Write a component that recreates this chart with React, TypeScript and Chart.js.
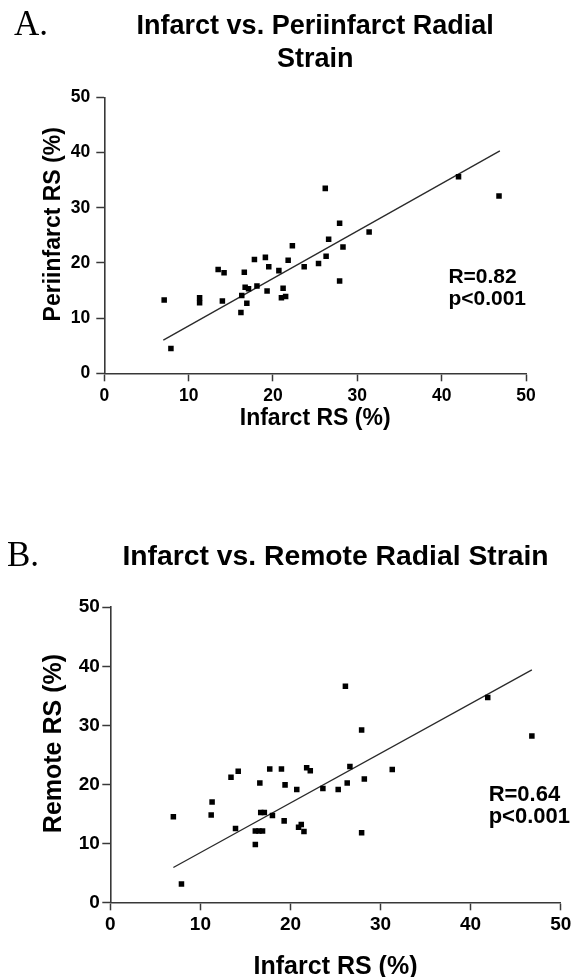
import React, { useEffect, useRef } from 'react';
import { Chart, registerables } from 'chart.js';

Chart.register(...registerables);

const SANS = 'Arial, "Liberation Sans", Helvetica, sans-serif';
const SERIF = '"Liberation Serif", "Times New Roman", Times, serif';

// Shared tick values
const axisTicks = [0, 10, 20, 30, 40, 50];

// Panel A: Infarct vs. Periinfarct radial strain
const infarctA = [7.1, 7.9, 11.3, 11.3, 13.5, 14.2, 14.0, 16.6, 16.2, 16.3, 16.7, 17.1, 16.9, 18.1, 17.8, 19.1, 19.5, 19.3, 20.7, 21.2, 21.0, 21.5, 21.8, 22.3, 23.7, 25.4, 26.2, 26.3, 26.6, 27.9, 27.9, 28.3, 31.4, 42.0, 46.8];
const periinfarct = [13.3, 4.5, 12.8, 13.7, 18.8, 18.2, 13.1, 18.3, 11.0, 14.1, 15.6, 15.3, 12.7, 15.8, 20.6, 21.0, 19.3, 14.9, 18.6, 15.4, 13.7, 13.9, 20.5, 23.1, 19.3, 19.9, 33.5, 21.2, 24.3, 27.2, 16.7, 22.9, 25.6, 35.6, 32.1];
const fitAx = [7.0, 46.9];
const fitAy = [6.0, 40.3];
const statsA = ['R=0.82', 'p<0.001'];

// Panel B: Infarct vs. Remote radial strain
const infarctB = [7.0, 7.9, 11.2, 11.3, 13.4, 14.2, 13.9, 16.1, 16.1, 16.5, 16.9, 16.6, 16.7, 17.1, 18.0, 17.7, 19.0, 19.4, 19.3, 20.7, 20.9, 21.2, 21.5, 21.8, 22.2, 23.6, 25.3, 26.1, 26.3, 26.6, 27.9, 27.9, 28.2, 31.3, 41.9, 46.8];
const remote = [14.5, 3.1, 14.8, 17.0, 21.2, 22.2, 12.5, 9.8, 12.1, 12.1, 12.1, 20.2, 15.2, 15.2, 14.7, 22.6, 22.6, 19.9, 13.8, 19.1, 12.7, 13.2, 12.0, 22.8, 22.3, 19.3, 19.1, 36.6, 20.2, 23.0, 29.2, 11.8, 20.9, 22.5, 34.7, 28.2];
const fitBx = [7.0, 46.8];
const fitBy = [5.9, 39.4];
const statsB = ['R=0.64', 'p<0.001'];

const panelText = {
  id: 'panelText',
  afterDraw(chart: any, _args: any, opts: any) {
    const { ctx, scales } = chart;
    ctx.save();
    ctx.fillStyle = '#000';
    ctx.textAlign = 'left';
    ctx.textBaseline = 'alphabetic';
    ctx.font = `${opts.letterSize}px ${SERIF}`;
    ctx.fillText(opts.letter, opts.letterX, opts.letterY);
    ctx.font = `bold ${opts.statsSize}px ${SANS}`;
    const x = scales.x.getPixelForValue(opts.statsAt[0]);
    const y = scales.y.getPixelForValue(opts.statsAt[1]);
    opts.stats.forEach((s: string, i: number) => ctx.fillText(s, x, y + i * opts.statsGap));
    // Y-axis title (rotated), centred on a data value of the y scale
    const ty = scales.y.getPixelForValue(opts.yTitleAt);
    ctx.translate(opts.yTitleX, ty);
    ctx.rotate(-Math.PI / 2);
    ctx.textAlign = 'center';
    ctx.textBaseline = 'middle';
    ctx.font = `bold ${opts.yTitleSize}px ${SANS}`;
    ctx.fillText(opts.yTitle, 0, 0);
    ctx.restore();
  },
};

type PanelSpec = {
  width: number;
  height: number;
  xs: number[];
  ys: number[];
  fx: number[];
  fy: number[];
  title: string | string[];
  titleSize: number;
  titleLH: number;
  titlePad: { top: number; bottom: number };
  xTitle: string;
  yTitle: string;
  axisTitleSize: number;
  xTitleLH: number;
  xTitlePadBottom: number;
  yTitleX: number;
  yTitleAt: number;
  tickSize: number;
  xTickPad: number;
  yTickPad: number;
  yAxisWidth: number;
  xAxisHeight: number;
  padRight: number;
  letter: string;
  letterX: number;
  letterY: number;
  letterSize: number;
  stats: string[];
  statsAt: number[];
  statsSize: number;
  statsGap: number;
};

function buildConfig(p: PanelSpec): any {
  const axisColor = '#383838';
  const common = (which: 'x' | 'y') => ({
    type: 'linear',
    min: 0,
    max: 50,
    afterBuildTicks: (scale: any) => {
      scale.ticks = axisTicks.map((v) => ({ value: v }));
    },
    grid: {
      display: true,
      drawOnChartArea: false,
      drawTicks: true,
      tickLength: 8,
      tickWidth: 1.5,
      color: axisColor,
    },
    border: { display: true, color: axisColor, width: 1.6 },
    ticks: {
      color: '#000',
      font: { family: SANS, size: p.tickSize, weight: 'bold' },
      padding: which === 'x' ? p.xTickPad : p.yTickPad,
      maxRotation: 0,
      autoSkip: false,
    },
  });
  return {
    type: 'scatter',
    data: {
      datasets: [
        {
          label: 'points',
          data: p.xs.map((x, i) => ({ x, y: p.ys[i] })),
          pointStyle: 'rect',
          pointRadius: 3.9,
          pointBorderWidth: 0,
          backgroundColor: '#000',
          borderColor: '#000',
          showLine: false,
        },
        {
          label: 'fit',
          data: p.fx.map((x, i) => ({ x, y: p.fy[i] })),
          showLine: true,
          pointRadius: 0,
          borderColor: '#2a2a2a',
          borderWidth: 1.3,
          fill: false,
        },
      ],
    },
    options: {
      responsive: false,
      animation: false,
      devicePixelRatio: 1,
      layout: { padding: { left: 0, top: 0, bottom: 0, right: p.padRight } },
      plugins: {
        legend: { display: false },
        tooltip: { enabled: false },
        title: {
          display: true,
          fullSize: false,
          text: p.title,
          color: '#000',
          font: { family: SANS, size: p.titleSize, weight: 'bold', lineHeight: p.titleLH },
          padding: p.titlePad,
        },
        panelText: {
          letter: p.letter,
          letterX: p.letterX,
          letterY: p.letterY,
          letterSize: p.letterSize,
          stats: p.stats,
          statsAt: p.statsAt,
          statsSize: p.statsSize,
          statsGap: p.statsGap,
          yTitle: p.yTitle,
          yTitleX: p.yTitleX,
          yTitleAt: p.yTitleAt,
          yTitleSize: p.axisTitleSize,
        },
      },
      scales: {
        x: {
          ...common('x'),
          position: 'bottom',
          afterFit: (scale: any) => {
            scale.height = p.xAxisHeight;
          },
          title: {
            display: true,
            text: p.xTitle,
            color: '#000',
            font: { family: SANS, size: p.axisTitleSize, weight: 'bold', lineHeight: p.xTitleLH },
            padding: { top: 0, bottom: p.xTitlePadBottom },
          },
        },
        y: {
          ...common('y'),
          position: 'left',
          afterFit: (scale: any) => {
            scale.width = p.yAxisWidth;
          },
          title: { display: false },
        },
      },
    },
    plugins: [panelText],
  };
}

const panelA: PanelSpec = {
  width: 581,
  height: 480,
  xs: infarctA,
  ys: periinfarct,
  fx: fitAx,
  fy: fitAy,
  title: ['Infarct vs. Periinfarct Radial', 'Strain'],
  titleSize: 27,
  titleLH: 33 / 27,
  titlePad: { top: 10, bottom: 21.3 },
  xTitle: 'Infarct RS (%)',
  yTitle: 'Periinfarct RS (%)',
  axisTitleSize: 23,
  xTitleLH: 1.2,
  xTitlePadBottom: 48,
  yTitleX: 54,
  yTitleAt: 27,
  tickSize: 17.5,
  xTickPad: 4.5,
  yTickPad: 6,
  yAxisWidth: 104.3,
  xAxisHeight: 106.7,
  padRight: 55,
  letter: 'A.',
  letterX: 14,
  letterY: 35,
  letterSize: 35,
  stats: statsA,
  statsAt: [40.8, 16.3],
  statsSize: 21,
  statsGap: 21.6,
};

const panelB: PanelSpec = {
  width: 581,
  height: 457,
  xs: infarctB,
  ys: remote,
  fx: fitBx,
  fy: fitBy,
  title: 'Infarct vs. Remote Radial Strain',
  titleSize: 28.3,
  titleLH: 1.2,
  titlePad: { top: 20.3, bottom: 33 },
  xTitle: 'Infarct RS (%)',
  yTitle: 'Remote RS (%)',
  axisTitleSize: 25,
  xTitleLH: 0.8,
  xTitlePadBottom: 0,
  yTitleX: 54,
  yTitleAt: 26.9,
  tickSize: 19,
  xTickPad: 3.5,
  yTickPad: 2.5,
  yAxisWidth: 110.3,
  xAxisHeight: 74.7,
  padRight: 20.3,
  letter: 'B.',
  letterX: 7,
  letterY: 46,
  letterSize: 35,
  stats: statsB,
  statsAt: [42.0, 17.2],
  statsSize: 22,
  statsGap: 22,
};

function Panel({ spec, top }: { spec: PanelSpec; top: number }) {
  const ref = useRef<HTMLCanvasElement | null>(null);
  useEffect(() => {
    if (!ref.current) return;
    const chart = new Chart(ref.current, buildConfig(spec));
    return () => chart.destroy();
  }, [spec]);
  return (
    <canvas
      ref={ref}
      width={spec.width}
      height={spec.height}
      style={{ position: 'absolute', left: 0, top, width: spec.width, height: spec.height, display: 'block' }}
    />
  );
}

export default function App() {
  return (
    <div
      style={{
        position: 'absolute',
        left: 0,
        top: 0,
        width: 581,
        height: 977,
        overflow: 'hidden',
        background: '#fff',
      }}
    >
      <Panel spec={panelA} top={0} />
      <Panel spec={panelB} top={520} />
    </div>
  );
}
